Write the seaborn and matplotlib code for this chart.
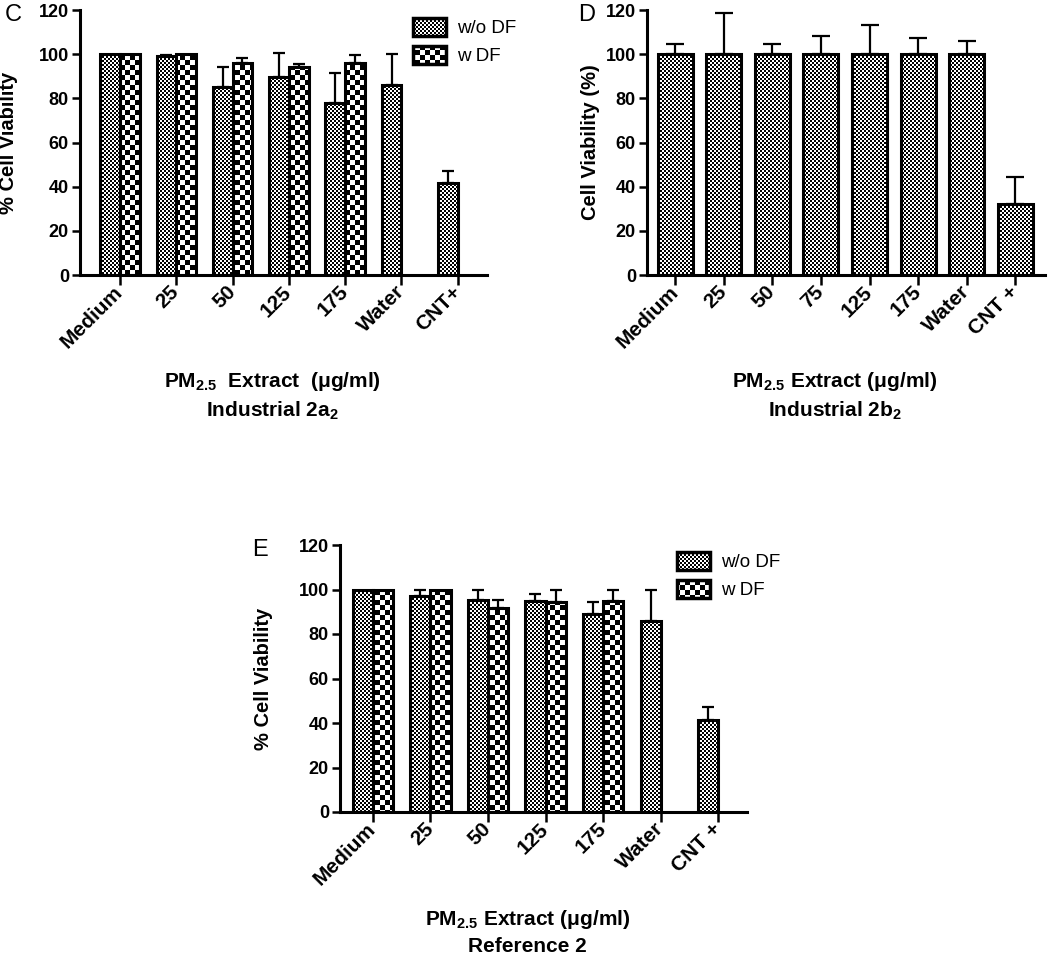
import numpy as np
import pandas as pd
import matplotlib
matplotlib.use("Agg")
import matplotlib.pyplot as plt
import matplotlib.hatch as mhatch
from matplotlib.patches import Patch
from matplotlib.path import Path
import seaborn as sns

# panel C - Industrial 2a2
cats_c = ["Medium", "25", "50", "125", "175", "Water", "CNT+"]
wo_df_c = [100, 99.3, 85, 89.5, 78, 86, 41.5]
wo_df_err_c = [0, 0.4, 9, 11, 13.5, 14, 5.5]
w_df_c = [100, 100, 96, 94, 96, np.nan, np.nan]
w_df_err_c = [0, 0, 2.2, 1.5, 3.4, np.nan, np.nan]

# panel D - Industrial 2b2
cats_d = ["Medium", "25", "50", "75", "125", "175", "Water", "CNT +"]
viab_d = [100, 100, 100, 100, 100, 100, 100, 32.3]
viab_err_d = [4.5, 18.6, 4.8, 8.3, 13.2, 7.1, 6.0, 12.1]

# panel E - Reference 2
cats_e = ["Medium", "25", "50", "125", "175", "Water", "CNT +"]
wo_df_e = [100, 97, 95.5, 95, 89, 86, 41.5]
wo_df_err_e = [0, 3, 4.3, 3, 5.5, 14, 5.5]
w_df_e = [100, 100, 91.5, 94.3, 95, np.nan, np.nan]
w_df_err_e = [0, 0, 4, 5.5, 5, np.nan, np.nan]

hue_levels = ["w/o DF", "w DF"]
ylabels = ["% Cell Viability", "Cell Viability (%)", "% Cell Viability"]


# checkerboard fills, registered as hatch patterns ('.' fine, 'O' coarse)
class Checker(mhatch.HatchPatternBase):
    char, cells = ".", 50

    def __init__(self, hatch, density):
        self.num_vertices = 5 * self.cells ** 2 // 2 if self.char in hatch else 0

    def set_vertices_and_codes(self, vertices, codes):
        s = 1.0 / self.cells
        squares = [(i, j) for i in range(self.cells) for j in range(self.cells) if (i + j) % 2 == 0]
        for k, (i, j) in enumerate(squares):
            x, y = j * s, i * s
            vertices[5 * k:5 * k + 5] = [(x, y), (x + s, y), (x + s, y + s), (x, y + s), (x, y)]
            codes[5 * k:5 * k + 5] = [Path.MOVETO, Path.LINETO, Path.LINETO, Path.LINETO, Path.CLOSEPOLY]


class FineChecker(Checker):
    char, cells = ".", 50


class CoarseChecker(Checker):
    char, cells = "O", 20


mhatch._hatch_types[:] = [FineChecker, CoarseChecker]
HATCHES = [".", "O"]

sns.set_style("ticks", {"axes.edgecolor": "black", "text.color": "black",
                        "axes.labelcolor": "black", "xtick.color": "black",
                        "ytick.color": "black"})
plt.rcParams['font.family'] = ['Liberation Sans', 'DejaVu Sans']
plt.rcParams['hatch.linewidth'] = 0.0
plt.rcParams['mathtext.fontset'] = 'custom'
plt.rcParams['mathtext.rm'] = 'Liberation Sans:bold'
plt.rcParams['mathtext.default'] = 'rm'


def long_frame(cats, series):
    rows = []
    for level, vals in series.items():
        for c, v in zip(cats, vals):
            rows.append({"group": c, "treatment": level, "viability": v})
    return pd.DataFrame(rows).dropna()


def add_errors(ax, containers, errs_list, capsize):
    for cont, errs in zip(containers, errs_list):
        errs = [e for e in errs if not np.isnan(e)]
        xs, ys, es = [], [], []
        for p, e in zip(cont, errs):
            if e > 0:
                xs.append(p.get_x() + p.get_width() / 2)
                ys.append(p.get_height())
                es.append(e)
        ax.errorbar(xs, ys, yerr=[np.zeros(len(es)), es], fmt='none', ecolor='black',
                    elinewidth=1.6, capsize=capsize, capthick=1.6, zorder=1)


def style_axis(ax, cats, xlim, ylabel, ylabel_x, xlabel, xlabel_x):
    ax.set_xlim(*xlim)
    ax.set_ylim(0, 120)
    ax.set_yticks(range(0, 121, 20))
    sns.despine(ax=ax)
    for s in ('left', 'bottom'):
        ax.spines[s].set_linewidth(2.2)
    ax.tick_params(axis='y', length=6, width=1.8, labelsize=13, pad=2)
    ax.tick_params(axis='x', length=7, width=1.8, labelsize=15, pad=3)
    ax.set_xticks(range(len(cats)), cats, rotation=45, ha='right', va='center',
                  rotation_mode='anchor', fontweight='bold')
    plt.setp(ax.get_yticklabels(), fontweight='bold')
    ax.set_ylabel(ylabel, fontsize=14.5, fontweight='bold')
    ax.yaxis.set_label_coords(ylabel_x, 0.5)
    ax.set_xlabel(xlabel, fontsize=15, fontweight='bold', linespacing=1.4)
    ax.xaxis.set_label_coords(xlabel_x, -0.36)


def dodged_panel(ax, cats, wo, w, wo_err, w_err):
    df = long_frame(cats, {"w/o DF": wo, "w DF": w})
    sns.barplot(data=df, x="group", y="viability", hue="treatment", order=cats,
                hue_order=hue_levels, palette={"w/o DF": "white", "w DF": "white"},
                width=0.7, edgecolor="black", linewidth=2.2, errorbar=None,
                legend=False, saturation=1, ax=ax)
    bars = list(ax.containers)
    for cont, h in zip(bars, HATCHES):
        for p in cont:
            p.set_hatch(h)
    add_errors(ax, bars, [wo_err, w_err], capsize=4.5)


def add_legend(ax, anchor):
    handles = [Patch(facecolor='white', edgecolor='black', linewidth=2.5, hatch=h, label=l)
               for h, l in zip(HATCHES, hue_levels)]
    ax.legend(handles=handles, loc='upper left', bbox_to_anchor=anchor, frameon=False,
              fontsize=13.5, handlelength=1.75, handleheight=1.1, handletextpad=0.6,
              labelspacing=0.45, borderpad=0, borderaxespad=0)


fig = plt.figure(figsize=(10.5, 9.56), dpi=100)
W, H = 1050, 956
ax_c = fig.add_axes([80 / W, 1 - 275 / H, 407 / W, 265 / H])
ax_d = fig.add_axes([647 / W, 1 - 275 / H, 398 / W, 265 / H])
ax_e = fig.add_axes([340 / W, 1 - 812 / H, 407 / W, 267 / H])

# C
dodged_panel(ax_c, cats_c, wo_df_c, w_df_c, wo_df_err_c, w_df_err_c)
style_axis(ax_c, cats_c, (-0.71, 6.52), ylabels[0], -0.152,
           "PM$_{2.5}$  Extract  (\u03bcg/ml)\nIndustrial 2a$_{2}$", 0.472)
add_legend(ax_c, (0.818, 0.97))

# D
df_d = pd.DataFrame({"group": cats_d, "viability": viab_d})
sns.barplot(data=df_d, x="group", y="viability", order=cats_d, color="white",
            width=0.72, edgecolor="black", linewidth=2.2, errorbar=None,
            saturation=1, ax=ax_d)
bars_d = list(ax_d.containers)
for p in bars_d[0]:
    p.set_hatch(".")
add_errors(ax_d, bars_d, [viab_err_d], capsize=6.5)
style_axis(ax_d, cats_d, (-0.58, 7.61), ylabels[1], -0.118,
           "PM$_{2.5}$ Extract (\u03bcg/ml)\nIndustrial 2b$_{2}$", 0.472)

# E
dodged_panel(ax_e, cats_e, wo_df_e, w_df_e, wo_df_err_e, w_df_err_e)
style_axis(ax_e, cats_e, (-0.57, 6.5), ylabels[2], -0.165,
           "PM$_{2.5}$ Extract (\u03bcg/ml)\nReference 2", 0.46)
add_legend(ax_e, (0.828, 0.974))

fig.text(5 / W, 1 - 4 / H, "C", fontsize=17, va='top', ha='left')
fig.text(578 / W, 1 - 4 / H, "D", fontsize=17, va='top', ha='left')
fig.text(252 / W, 1 - 539 / H, "E", fontsize=17, va='top', ha='left')

fig.savefig("out.png", dpi=100)
